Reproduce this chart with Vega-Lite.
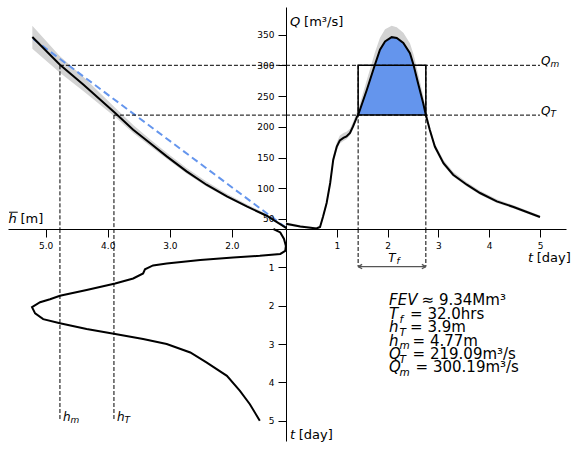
{
  "$schema": "https://vega.github.io/schema/vega-lite/v6.json",
  "padding": {"left": 8, "top": 7, "right": 5, "bottom": 5},
  "bounds": "flush",
  "spacing": 0,
  "columns": 2,
  "config": {
    "view": {"stroke": null},
    "font": "DejaVu Sans",
    "axis": {"domainColor": "black", "domainWidth": 1, "tickColor": "black", "tickWidth": 1, "tickSize": 8, "labelFont": "DejaVu Sans", "labelFontSize": 9, "labelColor": "black", "labelPadding": 4, "labelOverlap": false, "grid": false},
    "text": {"font": "DejaVu Sans", "color": "black"}
  },
  "datasets": {
    "hydro": [
      {"t": 0.00, "Q": 42.3, "lo": 40, "hi": 44.5},
      {"t": 0.28, "Q": 37.9, "lo": 36, "hi": 40},
      {"t": 0.60, "Q": 34.7, "lo": 33.7, "hi": 36.5},
      {"t": 0.67, "Q": 37, "lo": 35, "hi": 40},
      {"t": 0.73, "Q": 54, "lo": 50, "hi": 58},
      {"t": 0.80, "Q": 76, "lo": 71, "hi": 81},
      {"t": 0.87, "Q": 108.6, "lo": 103, "hi": 115},
      {"t": 0.93, "Q": 146.5, "lo": 140, "hi": 153},
      {"t": 1.00, "Q": 168, "lo": 162, "hi": 175},
      {"t": 1.06, "Q": 178, "lo": 173, "hi": 186},
      {"t": 1.13, "Q": 182, "lo": 177, "hi": 190},
      {"t": 1.19, "Q": 184.4, "lo": 180, "hi": 192},
      {"t": 1.26, "Q": 190, "lo": 186, "hi": 197},
      {"t": 1.32, "Q": 200.7, "lo": 196, "hi": 208},
      {"t": 1.40, "Q": 217, "lo": 212, "hi": 225},
      {"t": 1.42, "Q": 219.09, "lo": 214, "hi": 228},
      {"t": 1.59, "Q": 260, "lo": 254, "hi": 276},
      {"t": 1.75, "Q": 301, "lo": 294, "hi": 321},
      {"t": 1.85, "Q": 325.6, "lo": 318, "hi": 345},
      {"t": 1.95, "Q": 339, "lo": 332, "hi": 359},
      {"t": 2.08, "Q": 346, "lo": 340, "hi": 364.6},
      {"t": 2.18, "Q": 344.6, "lo": 338, "hi": 362},
      {"t": 2.31, "Q": 336.5, "lo": 330, "hi": 353},
      {"t": 2.44, "Q": 320, "lo": 314, "hi": 336},
      {"t": 2.51, "Q": 301, "lo": 296, "hi": 318},
      {"t": 2.60, "Q": 271, "lo": 266, "hi": 287},
      {"t": 2.70, "Q": 238.8, "lo": 234, "hi": 251},
      {"t": 2.753, "Q": 219.09, "lo": 215, "hi": 229},
      {"t": 2.83, "Q": 195.3, "lo": 191, "hi": 201},
      {"t": 2.93, "Q": 168, "lo": 164, "hi": 173},
      {"t": 3.10, "Q": 141, "lo": 137, "hi": 146},
      {"t": 3.29, "Q": 122, "lo": 119, "hi": 127},
      {"t": 3.56, "Q": 105.8, "lo": 103, "hi": 110},
      {"t": 3.82, "Q": 92.3, "lo": 89.5, "hi": 96},
      {"t": 4.15, "Q": 78.6, "lo": 76, "hi": 82},
      {"t": 4.48, "Q": 69.5, "lo": 67, "hi": 72.5},
      {"t": 5.00, "Q": 53.2, "lo": 51, "hi": 55.5}
    ],
    "rating": [
      {"h": 1.12, "Q": 35, "lo": 34, "hi": 36.5},
      {"h": 1.44, "Q": 55.3, "lo": 53.5, "hi": 58},
      {"h": 1.76, "Q": 70.5, "lo": 68.5, "hi": 74},
      {"h": 2.08, "Q": 86.8, "lo": 84.5, "hi": 91},
      {"h": 2.41, "Q": 105.8, "lo": 103, "hi": 111},
      {"h": 2.73, "Q": 127.5, "lo": 124, "hi": 133},
      {"h": 3.05, "Q": 151.9, "lo": 148, "hi": 158},
      {"h": 3.32, "Q": 173.7, "lo": 169, "hi": 180},
      {"h": 3.59, "Q": 195.3, "lo": 190, "hi": 203},
      {"h": 3.88, "Q": 222.5, "lo": 216, "hi": 231},
      {"h": 4.39, "Q": 268.6, "lo": 258, "hi": 281},
      {"h": 4.77, "Q": 301.2, "lo": 288, "hi": 315},
      {"h": 5.215, "Q": 346.3, "lo": 327, "hi": 364.6}
    ],
    "fit": [{"h": 5.2, "Q": 343}, {"h": 1.116, "Q": 35}],
    "stage": [
      {"t": 0.00, "h": 1.33}, {"t": 0.09, "h": 1.22}, {"t": 0.26, "h": 1.16}, {"t": 0.44, "h": 1.13},
      {"t": 0.57, "h": 1.14}, {"t": 0.65, "h": 1.22}, {"t": 0.70, "h": 1.55}, {"t": 0.74, "h": 1.98},
      {"t": 0.81, "h": 2.51}, {"t": 0.90, "h": 3.05}, {"t": 0.95, "h": 3.27}, {"t": 1.05, "h": 3.40},
      {"t": 1.16, "h": 3.43}, {"t": 1.29, "h": 3.59}, {"t": 1.42, "h": 3.88}, {"t": 1.59, "h": 4.34},
      {"t": 1.74, "h": 4.77}, {"t": 1.83, "h": 4.93}, {"t": 1.91, "h": 5.09}, {"t": 2.04, "h": 5.22},
      {"t": 2.20, "h": 5.17}, {"t": 2.35, "h": 5.04}, {"t": 2.46, "h": 4.77}, {"t": 2.61, "h": 4.34},
      {"t": 2.74, "h": 3.88}, {"t": 2.87, "h": 3.43}, {"t": 3.00, "h": 3.05}, {"t": 3.22, "h": 2.67},
      {"t": 3.48, "h": 2.41}, {"t": 3.83, "h": 2.08}, {"t": 4.22, "h": 1.87}, {"t": 4.57, "h": 1.71},
      {"t": 5.00, "h": 1.55}
    ],
    "levels": [{"lvl": "m", "h": 4.77, "Q": 300.19}, {"lvl": "T", "h": 3.9, "Q": 219.09}],
    "window": [{"t": 1.42}, {"t": 2.753}],
    "box": [{"t0": 1.42, "t1": 2.753, "Q0": 219.09, "Q1": 300.19}],
    "notes": [
      {"key": "FEV", "sym": "FEV", "sub": "", "rest": "≈ 9.34Mm³", "t": 2.03, "d": 1.977},
      {"key": "Tf", "sym": "T", "sub": "f", "rest": "= 32.0hrs", "t": 2.03, "d": 2.35},
      {"key": "hT", "sym": "h", "sub": "T", "rest": "= 3.9m", "t": 2.03, "d": 2.697},
      {"key": "hm", "sym": "h", "sub": "m", "rest": "= 4.77m", "t": 2.03, "d": 3.046},
      {"key": "QT", "sym": "Q", "sub": "T", "rest": "= 219.09m³/s", "t": 2.03, "d": 3.393},
      {"key": "Qm", "sym": "Q", "sub": "m", "rest": "= 300.19m³/s", "t": 2.03, "d": 3.74}
    ]
  },
  "concat": [
    {
      "width": 278, "height": 222,
      "layer": [
        {"data": {"name": "rating"}, "mark": {"type": "area", "color": "#d3d3d3"},
         "encoding": {
           "x": {"field": "h", "type": "quantitative", "title": null, "scale": {"domain": [1.128, 5.607], "reverse": true, "nice": false, "zero": false}, "axis": {"title": null, "values": [5, 4, 3, 2], "format": ".1f", "labelOverlap": false}},
           "y": {"field": "lo", "type": "quantitative", "scale": {"domain": [33.7, 395.1], "nice": false, "zero": false}, "axis": null},
           "y2": {"field": "hi"}}},
        {"data": {"name": "fit"}, "mark": {"type": "line", "color": "#6495ED", "strokeWidth": 2, "strokeDash": [7, 4]},
         "encoding": {"x": {"field": "h", "type": "quantitative", "title": null, "axis": {"title": null, "values": [5, 4, 3, 2], "format": ".1f", "labelOverlap": false}}, "y": {"field": "Q", "type": "quantitative", "axis": null}}},
        {"data": {"name": "rating"}, "mark": {"type": "line", "color": "black", "strokeWidth": 2},
         "encoding": {"x": {"field": "h", "type": "quantitative", "title": null, "axis": {"title": null, "values": [5, 4, 3, 2], "format": ".1f", "labelOverlap": false}}, "y": {"field": "Q", "type": "quantitative", "axis": null}}},
        {"data": {"name": "levels"}, "mark": {"type": "rule", "color": "black", "strokeWidth": 1, "strokeDash": [4, 2]},
         "encoding": {"x": {"field": "h", "type": "quantitative", "title": null, "axis": {"title": null, "values": [5, 4, 3, 2], "format": ".1f", "labelOverlap": false}}, "x2": {"datum": 1.128}, "y": {"field": "Q", "type": "quantitative", "axis": null}}},
        {"data": {"name": "levels"}, "mark": {"type": "rule", "color": "black", "strokeWidth": 1, "strokeDash": [4, 2]},
         "encoding": {"x": {"field": "h", "type": "quantitative", "title": null, "axis": {"title": null, "values": [5, 4, 3, 2], "format": ".1f", "labelOverlap": false}}, "y": {"field": "Q", "type": "quantitative", "axis": null}, "y2": {"datum": 33.7}}},
        {"data": {"values": [{}]}, "mark": {"type": "text", "text": "h", "fontStyle": "italic", "fontSize": 13, "align": "left", "baseline": "alphabetic"},
         "encoding": {"x": {"datum": 5.6, "type": "quantitative", "title": null, "axis": {"title": null, "values": [5, 4, 3, 2], "format": ".1f", "labelOverlap": false}}, "y": {"datum": 43.5, "type": "quantitative", "axis": null}}},
        {"data": {"values": [{}]}, "mark": {"type": "rule", "color": "black", "strokeWidth": 1},
         "encoding": {"x": {"datum": 5.59, "type": "quantitative", "title": null, "axis": {"title": null, "values": [5, 4, 3, 2], "format": ".1f", "labelOverlap": false}}, "x2": {"datum": 5.45}, "y": {"datum": 61, "type": "quantitative", "axis": null}}},
        {"data": {"values": [{}]}, "mark": {"type": "text", "text": "[m]", "fontSize": 13, "align": "left", "baseline": "alphabetic", "dx": 12},
         "encoding": {"x": {"datum": 5.6, "type": "quantitative", "title": null, "axis": {"title": null, "values": [5, 4, 3, 2], "format": ".1f", "labelOverlap": false}}, "y": {"datum": 43.5, "type": "quantitative", "axis": null}}}
      ]
    },
    {
      "width": 280, "height": 222,
      "encoding": {
        "x": {"type": "quantitative", "title": null, "scale": {"domain": [0, 5.512], "nice": false, "zero": false}, "axis": {"title": null, "values": [1, 2, 3, 4, 5], "format": "d", "labelOverlap": false}},
        "y": {"type": "quantitative", "title": null, "scale": {"domain": [33.7, 395.1], "nice": false, "zero": false}, "axis": {"title": null, "values": [50, 100, 150, 200, 250, 300, 350], "labelOverlap": false}}
      },
      "layer": [
        {"data": {"name": "hydro"}, "mark": {"type": "area", "color": "#d3d3d3"},
         "encoding": {"x": {"field": "t"}, "y": {"field": "lo"}, "y2": {"field": "hi"}}},
        {"data": {"name": "hydro"}, "transform": [{"filter": {"field": "t", "range": [1.42, 2.753]}}],
         "mark": {"type": "area", "color": "#6495ED"},
         "encoding": {"x": {"field": "t"}, "y": {"field": "Q"}, "y2": {"datum": 219.09}}},
        {"data": {"name": "hydro"}, "mark": {"type": "line", "color": "black", "strokeWidth": 2},
         "encoding": {"x": {"field": "t"}, "y": {"field": "Q"}}},
        {"data": {"name": "box"}, "mark": {"type": "rect", "fillOpacity": 0, "stroke": "black", "strokeWidth": 1.5},
         "encoding": {"x": {"field": "t0"}, "x2": {"field": "t1"}, "y": {"field": "Q0"}, "y2": {"field": "Q1"}}},
        {"data": {"name": "levels"}, "mark": {"type": "rule", "color": "black", "strokeWidth": 1, "strokeDash": [4, 2]},
         "encoding": {"x": {"datum": 0}, "x2": {"datum": 5}, "y": {"field": "Q"}}},
        {"data": {"name": "window"}, "mark": {"type": "rule", "color": "black", "strokeWidth": 1, "strokeDash": [4, 2]},
         "encoding": {"x": {"field": "t"}, "y": {"datum": 300.19}, "y2": {"datum": 33.7}}},
        {"data": {"name": "levels"}, "mark": {"type": "text", "text": "Q", "fontStyle": "italic", "fontSize": 12, "align": "left", "baseline": "alphabetic", "dx": 1},
         "encoding": {"x": {"datum": 5}, "y": {"field": "Q"}}},
        {"data": {"name": "levels"}, "mark": {"type": "text", "fontStyle": "italic", "fontSize": 9, "align": "left", "baseline": "alphabetic", "dx": 10.5, "dy": 2},
         "encoding": {"text": {"field": "lvl"}, "x": {"datum": 5}, "y": {"field": "Q"}}},
        {"data": {"values": [{}]}, "mark": {"type": "text", "text": "Q", "fontStyle": "italic", "fontSize": 13, "align": "left", "baseline": "alphabetic"},
         "encoding": {"x": {"datum": 0.08}, "y": {"datum": 364.6}}},
        {"data": {"values": [{}]}, "mark": {"type": "text", "text": "[m³/s]", "fontSize": 13, "align": "left", "baseline": "alphabetic", "dx": 14},
         "encoding": {"x": {"datum": 0.08}, "y": {"datum": 364.6}}}
      ]
    },
    {
      "width": 278, "height": 212,
      "layer": [
        {"data": {"name": "stage"}, "mark": {"type": "line", "color": "black", "strokeWidth": 2},
         "encoding": {
           "x": {"field": "h", "type": "quantitative", "scale": {"domain": [1.128, 5.607], "reverse": true, "nice": false, "zero": false}, "axis": null},
           "y": {"field": "t", "type": "quantitative", "title": null, "scale": {"domain": [0, 5.528], "reverse": true, "nice": false, "zero": false}, "axis": {"title": null, "orient": "left", "offset": -278, "values": [1, 2, 3, 4, 5], "format": "d", "labelOverlap": false}},
           "order": {"field": "t"}}},
        {"data": {"name": "levels"}, "mark": {"type": "rule", "color": "black", "strokeWidth": 1, "strokeDash": [4, 2]},
         "encoding": {"x": {"field": "h", "type": "quantitative", "axis": null}, "y": {"datum": 0, "type": "quantitative", "title": null, "axis": {"title": null, "orient": "left", "offset": -278, "values": [1, 2, 3, 4, 5], "format": "d", "labelOverlap": false}}, "y2": {"datum": 5}}},
        {"data": {"name": "levels"}, "mark": {"type": "text", "text": "h", "fontStyle": "italic", "fontSize": 12, "align": "left", "baseline": "alphabetic", "dx": 3},
         "encoding": {"x": {"field": "h", "type": "quantitative", "axis": null}, "y": {"datum": 5, "type": "quantitative", "title": null, "axis": {"title": null, "orient": "left", "offset": -278, "values": [1, 2, 3, 4, 5], "format": "d", "labelOverlap": false}}}},
        {"data": {"name": "levels"}, "mark": {"type": "text", "fontStyle": "italic", "fontSize": 9, "align": "left", "baseline": "alphabetic", "dx": 10.5, "dy": 2},
         "encoding": {"text": {"field": "lvl"}, "x": {"field": "h", "type": "quantitative", "axis": null}, "y": {"datum": 5, "type": "quantitative", "title": null, "axis": {"title": null, "orient": "left", "offset": -278, "values": [1, 2, 3, 4, 5], "format": "d", "labelOverlap": false}}}}
      ]
    },
    {
      "width": 280, "height": 212,
      "layer": [
        {"data": {"name": "window"}, "mark": {"type": "rule", "color": "black", "strokeWidth": 1, "strokeDash": [4, 2]},
         "encoding": {
           "x": {"field": "t", "type": "quantitative", "scale": {"domain": [0, 5.512], "nice": false, "zero": false}, "axis": null},
           "y": {"datum": 0, "type": "quantitative", "scale": {"domain": [0, 5.528], "reverse": true, "nice": false, "zero": false}, "axis": null},
           "y2": {"datum": 0.98}}},
        {"data": {"name": "box"}, "mark": {"type": "rule", "color": "#555555", "strokeWidth": 1.3},
         "encoding": {"x": {"field": "t0", "type": "quantitative", "axis": null}, "x2": {"field": "t1"}, "y": {"datum": 0.98, "type": "quantitative", "axis": null}}},
        {"data": {"name": "box"}, "mark": {"type": "point", "shape": "M0,0L2,-1.1M0,0L2,1.1", "size": 16, "filled": false, "stroke": "#555555", "strokeWidth": 1.3, "opacity": 1},
         "encoding": {"x": {"field": "t0", "type": "quantitative", "axis": null}, "y": {"datum": 0.98, "type": "quantitative", "axis": null}}},
        {"data": {"name": "box"}, "mark": {"type": "point", "shape": "M0,0L-2,-1.1M0,0L-2,1.1", "size": 16, "filled": false, "stroke": "#555555", "strokeWidth": 1.3, "opacity": 1},
         "encoding": {"x": {"field": "t1", "type": "quantitative", "axis": null}, "y": {"datum": 0.98, "type": "quantitative", "axis": null}}},
        {"data": {"values": [{}]}, "mark": {"type": "text", "text": "T", "fontStyle": "italic", "fontSize": 12, "align": "center", "baseline": "alphabetic"},
         "encoding": {"x": {"datum": 2.087, "type": "quantitative", "axis": null}, "y": {"datum": 0.855, "type": "quantitative", "axis": null}}},
        {"data": {"values": [{}]}, "mark": {"type": "text", "text": "f", "fontStyle": "italic", "fontSize": 9, "align": "left", "baseline": "alphabetic", "dx": 4.5, "dy": 2},
         "encoding": {"x": {"datum": 2.087, "type": "quantitative", "axis": null}, "y": {"datum": 0.855, "type": "quantitative", "axis": null}}},
        {"data": {"name": "notes"}, "mark": {"type": "text", "fontStyle": "italic", "fontSize": 15, "align": "left", "baseline": "alphabetic"},
         "encoding": {"text": {"field": "sym"}, "x": {"field": "t", "type": "quantitative", "axis": null}, "y": {"field": "d", "type": "quantitative", "axis": null}}},
        {"data": {"name": "notes"}, "mark": {"type": "text", "fontStyle": "italic", "fontSize": 10.5, "align": "left", "baseline": "alphabetic", "dx": 10.5, "dy": 3.5},
         "encoding": {"text": {"field": "sub"}, "x": {"field": "t", "type": "quantitative", "axis": null}, "y": {"field": "d", "type": "quantitative", "axis": null}}},
        {"data": {"name": "notes"}, "transform": [{"filter": {"field": "key", "oneOf": ["FEV"]}}],
         "mark": {"type": "text", "fontSize": 15, "align": "left", "baseline": "alphabetic", "dx": 32.5},
         "encoding": {"text": {"field": "rest"}, "x": {"field": "t", "type": "quantitative", "axis": null}, "y": {"field": "d", "type": "quantitative", "axis": null}}},
        {"data": {"name": "notes"}, "transform": [{"filter": {"field": "key", "oneOf": ["Tf", "hT"]}}],
         "mark": {"type": "text", "fontSize": 15, "align": "left", "baseline": "alphabetic", "dx": 21},
         "encoding": {"text": {"field": "rest"}, "x": {"field": "t", "type": "quantitative", "axis": null}, "y": {"field": "d", "type": "quantitative", "axis": null}}},
        {"data": {"name": "notes"}, "transform": [{"filter": {"field": "key", "oneOf": ["hm", "QT"]}}],
         "mark": {"type": "text", "fontSize": 15, "align": "left", "baseline": "alphabetic", "dx": 23.5},
         "encoding": {"text": {"field": "rest"}, "x": {"field": "t", "type": "quantitative", "axis": null}, "y": {"field": "d", "type": "quantitative", "axis": null}}},
        {"data": {"name": "notes"}, "transform": [{"filter": {"field": "key", "oneOf": ["Qm"]}}],
         "mark": {"type": "text", "fontSize": 15, "align": "left", "baseline": "alphabetic", "dx": 26.5},
         "encoding": {"text": {"field": "rest"}, "x": {"field": "t", "type": "quantitative", "axis": null}, "y": {"field": "d", "type": "quantitative", "axis": null}}},
        {"data": {"values": [{}]}, "mark": {"type": "text", "text": "t", "fontStyle": "italic", "fontSize": 13, "align": "left", "baseline": "alphabetic"},
         "encoding": {"x": {"datum": 4.764, "type": "quantitative", "axis": null}, "y": {"datum": 0.855, "type": "quantitative", "axis": null}}},
        {"data": {"values": [{}]}, "mark": {"type": "text", "text": "[day]", "fontSize": 13, "align": "left", "baseline": "alphabetic", "dx": 8.7},
         "encoding": {"x": {"datum": 4.764, "type": "quantitative", "axis": null}, "y": {"datum": 0.855, "type": "quantitative", "axis": null}}},
        {"data": {"values": [{}]}, "mark": {"type": "text", "text": "t", "fontStyle": "italic", "fontSize": 13, "align": "left", "baseline": "alphabetic"},
         "encoding": {"x": {"datum": 0.08, "type": "quantitative", "axis": null}, "y": {"datum": 5.478, "type": "quantitative", "axis": null}}},
        {"data": {"values": [{}]}, "mark": {"type": "text", "text": "[day]", "fontSize": 13, "align": "left", "baseline": "alphabetic", "dx": 8.7},
         "encoding": {"x": {"datum": 0.08, "type": "quantitative", "axis": null}, "y": {"datum": 5.478, "type": "quantitative", "axis": null}}}
      ]
    }
  ]
}
